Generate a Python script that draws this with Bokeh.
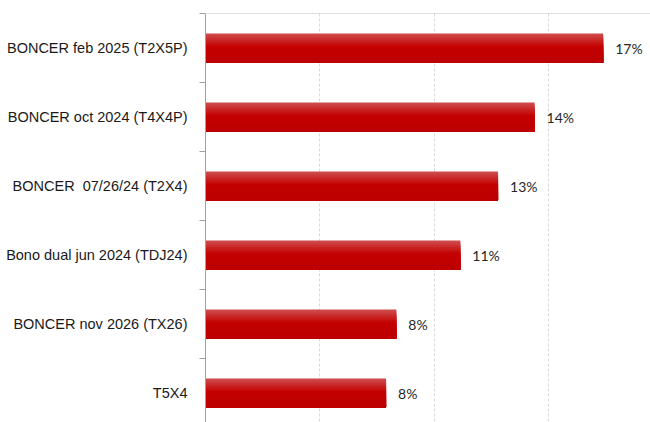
from bokeh.plotting import figure
from bokeh.models import Range1d, FixedTicker, Span
from bokeh.core.properties import value
from bokeh.embed import file_html
from bokeh.resources import INLINE

categories = [
    "BONCER feb 2025 (T2X5P)",
    "BONCER oct 2024 (T4X4P)",
    "BONCER\u00a0 07/26/24 (T2X4)",
    "Bono dual jun 2024 (TDJ24)",
    "BONCER nov 2026 (TX26)",
    "T5X4",
]
values = [17.4, 14.4, 12.8, 11.15, 8.35, 7.9]
value_labels = ["17%", "14%", "13%", "11%", "8%", "8%"]
grid_ticks = [5, 10, 15]

n = len(categories)
centers = [i + 0.5 for i in range(n)]

p = figure(width=650, height=422, output_backend="svg", toolbar_location=None,
           x_range=Range1d(0, 19.47), y_range=Range1d(5.927, 0),
           min_border_left=205, min_border_right=0, min_border_top=13, min_border_bottom=0)
p.outline_line_color = None
p.background_fill_color = "white"
p.xaxis.visible = False
p.ygrid.grid_line_color = None
p.xgrid.ticker = FixedTicker(ticks=grid_ticks)
p.xgrid.grid_line_color = "#d9d9d9"
p.xgrid.grid_line_dash = "3 2"

ax = p.yaxis[0]
ax.ticker = FixedTicker(ticks=centers, minor_ticks=list(range(n + 1)))
ax.major_label_overrides = {c: lab for c, lab in zip(centers, categories)}
ax.axis_line_color = "#a0a0a0"
ax.minor_tick_line_color = "#a0a0a0"
ax.minor_tick_out = 6
ax.minor_tick_in = 0
ax.major_tick_out = 0
ax.major_tick_in = 0
ax.major_tick_line_color = None
ax.major_label_standoff = 12
ax.major_label_text_font = "Liberation Sans"
ax.major_label_text_font_size = "14.5px"
ax.major_label_text_color = "#1a1a1a"

p.add_layout(Span(location=0, dimension="width", line_color="#c0c0c0", line_width=1))

# gradient bars emulated with nested overlapping rectangles
bar_h = 0.42
N = 14
def mix(c1, c2, t):
    return "#%02x%02x%02x" % tuple(int(round(a + (b - a) * t)) for a, b in zip(c1, c2))
top = (0xcf, 0x50, 0x50)
mid = (0xc4, 0x00, 0x00)
bot = (0xbc, 0x00, 0x00)
sh = bar_h / N
for k in range(N):
    t = (k + 0.5) / N
    col = mix(top, mid, t / 0.45) if t < 0.45 else mix(mid, bot, (t - 0.45) / 0.55)
    tops = [c - bar_h / 2 + sh * k for c in centers]
    bottoms = [c + bar_h / 2 for c in centers]
    p.quad(top=tops, bottom=bottoms, left=0, right=values, fill_color=col, line_color=None)

p.text(x=values, y=centers, text=value_labels, x_offset=12, text_baseline="middle",
       text_align="left", text_font=value("Lato"), text_font_size="14px", text_color="#262626")

open("out.html", "w").write(file_html(p, INLINE))
